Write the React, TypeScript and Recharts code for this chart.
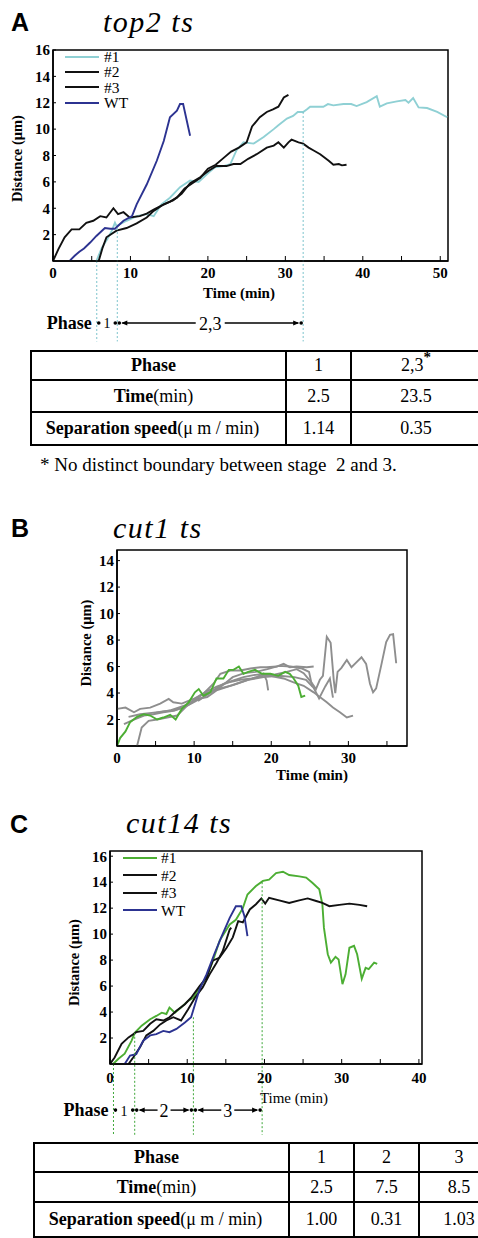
import React from "react";
import { LineChart, Line, XAxis, YAxis, ReferenceLine, ReferenceArea, Legend } from "recharts";

type P = [number, number];

const SERIF = '"Liberation Serif", "Times New Roman", serif';
const SANS = '"Liberation Sans", Arial, sans-serif';

// ---------- A: top2 ts ----------
const aTicksX = [0, 5, 10, 15, 20, 25, 30, 35, 40, 45, 50];
const aTicksY = [2, 4, 6, 8, 10, 12, 14, 16];
const a1: P[] = [[5.6,0],[6.3,1.0],[7.0,1.65],[7.6,2.3],[8.0,2.9],[8.2,2.65],[9.5,3.05],[10.8,3.4],[12.1,3.55],[13.0,3.4],[14.0,4.3],[15.1,4.8],[16.4,5.6],[17.7,6.1],[18.8,6.0],[19.9,6.6],[20.9,7.1],[22.0,7.2],[22.9,7.35],[23.7,8.4],[24.6,9.0],[25.9,8.9],[27.2,9.4],[28.5,10.0],[29.1,10.3],[30.2,10.8],[31.0,11.0],[31.6,11.3],[32.3,11.3],[32.8,11.5],[33.2,11.7],[34.9,11.7],[35.5,11.9],[36.2,11.8],[37.5,11.9],[38.5,11.9],[39.2,11.75],[40.5,12.05],[41.8,12.5],[42.2,11.7],[43.1,11.95],[44.4,12.1],[45.5,12.2],[45.9,12.0],[46.5,12.35],[47.2,11.65],[48.3,11.6],[49.6,11.3],[50.9,10.9]];
const a2: P[] = [[0,0],[0.7,0.9],[1.5,1.8],[2.4,2.4],[3.4,2.4],[4.3,2.9],[5.2,3.05],[6.1,3.4],[6.9,3.3],[7.8,4.0],[8.4,3.55],[9.1,3.7],[9.9,3.3],[11.2,3.4],[12.1,3.6],[13.0,3.9],[14.0,4.2],[15.1,4.5],[16.0,4.8],[17.0,5.5],[18.0,5.9],[19.0,6.3],[20.0,7.0],[21.0,7.3],[22.0,7.8],[23.0,8.3],[24.0,8.6],[25.0,9.0],[25.7,10.2],[26.7,10.9],[27.6,11.3],[28.4,11.5],[29.1,11.7],[29.8,12.4],[30.4,12.6]];
const a3: P[] = [[5.9,0],[6.4,1.0],[6.9,1.8],[8.2,2.3],[9.5,2.5],[10.8,2.85],[12.1,3.3],[13.0,3.8],[14.3,4.3],[15.5,4.6],[16.6,5.1],[17.7,5.9],[19.0,6.35],[20.1,6.85],[21.1,7.2],[22.4,7.2],[23.3,7.35],[24.2,7.35],[25.2,7.75],[26.3,8.1],[27.6,8.6],[28.5,8.75],[29.1,9.0],[29.8,8.6],[30.4,9.0],[30.8,9.2],[31.7,9.0],[32.3,8.9],[33.0,8.6],[33.6,8.4],[34.5,8.1],[35.6,7.6],[36.2,7.3],[36.9,7.35],[37.3,7.25],[37.9,7.3]];
const aWT: P[] = [[2.2,0.05],[2.8,0.4],[3.4,0.7],[4.0,0.95],[4.8,1.4],[5.6,1.9],[6.7,2.5],[7.4,2.45],[8.0,2.45],[9.1,3.05],[10.2,3.4],[10.8,4.3],[12.1,5.8],[13.4,7.6],[14.3,9.1],[15.1,10.9],[16.0,11.4],[16.4,11.9],[16.8,11.9],[17.7,9.5]];
const aCuts = [5.65, 8.3, 32.3];
const aCutFrom = [0, 2.5, 11.3];
const aPhaseLabels = ["1", "2,3"];
const aPhaseEdges = [5.65, 8.3, 32.3];
const aTableCols = ["1", "2,3"];
const aTimes = ["2.5", "23.5"];
const aSpeeds = ["1.14", "0.35"];

// ---------- B: cut1 ts ----------
const bTicksX = [0, 5, 10, 15, 20, 25, 30, 35];
const bTicksY = [2, 4, 6, 8, 10, 12, 14];
const bGreen: P[] = [[0,0],[0.4,0.6],[1.1,1.1],[1.7,1.8],[2.6,2.2],[3.5,2.4],[4.3,2.3],[5.2,2.0],[6.0,2.15],[6.9,2.35],[7.6,2.0],[8.4,2.8],[9.3,3.3],[10.1,4.05],[10.6,4.3],[11.2,3.8],[12.1,4.05],[12.9,5.1],[13.8,5.1],[14.5,5.75],[15.1,5.75],[15.8,6.0],[16.4,5.45],[17.0,5.6],[17.9,5.75],[18.8,5.45],[19.9,5.45],[20.9,5.3],[21.8,5.6],[22.4,5.45],[22.9,5.1],[23.5,4.55],[23.9,3.7],[24.4,3.8]];
const bG1: P[] = [[0,2.8],[1.1,2.9],[2.2,2.55],[3.0,2.8],[4.3,2.9],[5.6,3.2],[6.7,3.55],[7.3,3.3],[8.4,3.2],[9.9,3.55],[11.2,3.95],[12.5,4.7],[13.4,5.45],[14.7,5.7],[16.0,5.7],[17.3,5.85],[18.6,5.95],[19.4,5.95],[20.7,6.0],[21.6,6.2],[22.4,5.95],[23.3,6.0],[24.6,5.95],[25.5,6.0]];
const bG2: P[] = [[0.9,1.65],[2.2,2.0],[3.5,2.3],[4.7,2.4],[6.0,2.55],[7.3,2.65],[8.6,2.9],[9.9,3.3],[11.2,3.7],[12.5,4.2],[13.8,4.7],[15.1,4.95],[16.4,5.2],[17.7,5.35],[19.0,5.45],[20.3,5.25],[21.6,5.1],[22.9,4.8],[24.2,4.55],[25.5,4.05],[26.3,3.7],[27.2,3.3],[28.0,2.9],[28.9,2.55],[29.8,2.15],[30.6,2.3]];
const bG3: P[] = [[2.6,0],[3.2,1.4],[4.1,1.9],[5.2,2.0],[6.5,2.15],[7.8,2.3],[9.1,3.05],[10.4,3.55],[11.7,3.7],[12.9,4.2],[14.2,4.45],[15.5,4.7],[16.8,4.95],[18.1,5.2],[19.0,5.45],[19.4,4.95],[19.6,4.2]];
const bG4: P[] = [[1.5,2.2],[3.0,2.4],[4.5,2.5],[6.0,2.6],[7.5,2.7],[8.8,3.0],[10.0,3.4],[11.5,4.1],[13.0,4.5],[14.5,4.8],[16.0,5.0],[17.5,5.1],[19.0,5.3],[20.5,5.4],[22.0,5.6],[23.3,5.8],[24.2,5.5],[25.2,4.8],[25.8,4.3],[26.3,5.0],[26.7,5.3],[27.2,8.25],[27.7,7.8],[28.1,5.0],[28.3,4.0],[28.6,5.6],[29.1,5.9],[29.8,6.5],[30.4,5.95],[31.0,6.3],[31.7,6.7],[32.3,6.2],[32.8,4.7],[33.2,4.05],[33.6,4.35],[34.3,6.2],[34.9,7.85],[35.4,8.4],[35.8,8.45],[36.2,6.25]];
const bG5: P[] = [[5,2.5],[7,2.7],[9,3.1],[11,3.9],[13,4.3],[15,4.6],[17,5.0],[19,5.2],[21,5.3],[23,5.2],[24.5,5.0],[25.5,4.4],[26.2,3.6],[27,4.5],[27.6,5.1],[28,3.65]];
const bG6: P[] = [[10.5,3.4],[12,4.0],[13.5,4.5],[15,5.2],[16.5,5.5],[18,5.6],[19.5,5.8],[21,6.05],[22.5,6.0],[24,5.85],[24.9,5.6],[25.3,4.5]];

// ---------- C: cut14 ts ----------
const cTicksX = [0, 5, 10, 15, 20, 25, 30, 35, 40];
const cTicksY = [2, 4, 6, 8, 10, 12, 14, 16];
const c1: P[] = [[0.4,0],[1.1,0.4],[1.9,0.8],[2.8,1.8],[3.2,2.4],[4.1,2.95],[5.2,3.45],[6.0,3.7],[6.7,3.95],[7.3,3.85],[7.7,4.35],[8.4,3.95],[9.2,4.35],[10.1,4.85],[10.8,5.1],[11.6,5.9],[12.5,6.65],[13.3,7.9],[14.2,9.5],[15.5,10.75],[16.3,11.1],[17.2,12.0],[17.8,13.05],[18.9,13.7],[19.8,14.1],[20.6,14.2],[21.5,14.7],[22.4,14.8],[23.2,14.55],[24.5,14.45],[25.4,14.35],[26.2,13.95],[27.1,13.45],[27.5,12.3],[27.7,10.5],[28.2,8.45],[28.6,7.8],[29.2,8.25],[29.6,8.05],[30.1,6.15],[30.5,6.9],[31.0,8.95],[31.6,9.1],[32.0,8.45],[32.6,6.55],[33.1,7.4],[33.5,7.3],[34.2,7.8],[34.6,7.7]];
const c2: P[] = [[0,0],[0.6,0.5],[1.5,1.55],[2.4,2.05],[3.4,2.45],[4.3,2.55],[5.2,3.1],[6.0,3.45],[6.9,3.35],[7.7,3.6],[8.6,4.1],[9.7,4.6],[10.5,5.1],[11.6,6.0],[12.5,6.65],[13.3,7.95],[14.2,8.2],[15.1,8.95],[15.9,9.75],[16.6,11.0],[17.2,10.9],[18.1,11.9],[18.9,12.3],[19.6,12.75],[20.1,12.35],[20.6,12.8],[21.9,12.6],[23.2,12.4],[24.5,12.6],[25.6,12.75],[26.7,12.55],[27.5,12.4],[28.4,12.15],[29.7,12.25],[31.0,12.35],[32.3,12.25],[33.3,12.15]];
const c3: P[] = [[2.4,0],[3.0,0.5],[3.9,1.3],[4.7,2.2],[5.6,2.55],[6.5,3.05],[7.3,3.35],[8.2,3.6],[9.2,3.35],[10.1,4.2],[11.0,5.1],[12.0,5.9],[12.9,6.9],[13.8,7.8],[14.6,8.7],[15.5,10.35],[15.7,10.5]];
const cWT: P[] = [[1.9,0],[2.6,0.65],[3.4,0.75],[4.3,1.8],[5.2,2.2],[6.0,2.3],[6.9,2.55],[7.7,2.45],[8.6,2.7],[9.7,3.2],[10.5,3.6],[11.6,5.75],[12.5,6.9],[13.5,8.45],[14.4,9.75],[15.5,11.25],[16.3,12.15],[17.0,12.15],[17.4,11.4],[17.8,9.85]];
const cCuts = [0.45, 3.2, 10.8, 19.7];
const cCutFrom = [0, 2.4, 3.6, 14.0];
const cPhaseLabels = ["1", "2", "3"];
const cPhaseEdges = [0.45, 3.2, 10.8, 19.7];
const cTableCols = ["1", "2", "3"];
const cTimes = ["2.5", "7.5", "8.5"];
const cSpeeds = ["1.00", "0.31", "1.03"];

const CYAN = "#8fd0d4";
const BLACK = "#111";
const BLUE = "#2c3391";
const GREEN = "#4cae33";
const GREY = "#8e8e8e";

const pts = (a: P[]) => a.map(([x, y]) => ({ x, y }));

type Series = { name?: string; color: string; points: P[] };

type Cfg = {
  top: number;
  height: number;
  margin: { top: number; right: number; bottom: number; left: number };
  xMax: number;
  yMax: number;
  xTicks: number[];
  yTicks: number[];
  xTickMargin: number;
  series: Series[];
  xLab: { dx: number; dy: number; bold: boolean };
  yLab: { dx: number; dy: number };
  legend?: { left: number; top: number; row: number; gap: number };
  cuts?: number[];
  cutFrom?: number[];
  cutColor?: string;
  dropY?: number;
  phaseY?: number;
  phaseEdges?: number[];
  phaseLabels?: string[];
};

const tickStyle = { fill: "#000", fontSize: 15, fontWeight: 700, fontFamily: SERIF };

const xLabel = (c: Cfg) => (props: any) => {
  const vb = props.viewBox || {};
  const x = (vb.x ?? 0) + (vb.width ?? 0) / 2 + c.xLab.dx;
  const y = (vb.y ?? 0) + c.xLab.dy;
  return (
    <text x={x} y={y} textAnchor="middle" fontFamily={SERIF} fontSize={15} fontWeight={c.xLab.bold ? 700 : 400} fill="#000">
      Time (min)
    </text>
  );
};

const yLabel = (c: Cfg) => (props: any) => {
  const vb = props.viewBox || {};
  const x = (vb.x ?? 0) + (vb.width ?? 0) + c.yLab.dx;
  const y = (vb.y ?? 0) + (vb.height ?? 0) / 2 + c.yLab.dy;
  return (
    <text x={x} y={y} transform={`rotate(-90 ${x} ${y})`} textAnchor="middle" dominantBaseline="central" fontFamily={SERIF} fontSize={14.5} fontWeight={700} fill="#000">
      Distance (μm)
    </text>
  );
};

const legendBox = (row: number, gap: number) => (props: any) => (
  <div style={{ fontFamily: SERIF, fontSize: 15.5, color: "#000" }}>
    {(props.payload || []).map((p: any, i: number) => (
      <div key={i} style={{ display: "flex", alignItems: "center", height: row }}>
        <svg width={34} height={4} style={{ display: "block" }}>
          <line x1={0} x2={34} y1={2} y2={2} stroke={p.color} strokeWidth={2.2} />
        </svg>
        <span style={{ marginLeft: gap, lineHeight: 1 }}>{p.value}</span>
      </div>
    ))}
  </div>
);

const phaseShape = (label: string, first: boolean) => (p: any) => {
  const { x1, x2, y1 } = p;
  const y = y1;
  const short = x2 - x1 < 30;
  const mid = (x1 + x2) / 2;
  const half = label.length * 4 + 2.5;
  return (
    <g>
      {first && (
        <text x={x1 - 5} y={y} textAnchor="end" dominantBaseline="central" fontFamily={SERIF} fontSize={18} fontWeight={700} fill="#000">
          Phase
        </text>
      )}
      <circle cx={x1 + 2} cy={y} r={1.8} fill="#000" />
      <circle cx={x2 - 2} cy={y} r={1.8} fill="#000" />
      {!short && (
        <g>
          <line x1={x1 + 5} x2={mid - half} y1={y} y2={y} stroke="#000" strokeWidth={1.4} />
          <line x1={mid + half} x2={x2 - 5} y1={y} y2={y} stroke="#000" strokeWidth={1.4} />
          <path d={`M${x1 + 4},${y} l6,-2.6 v5.2 z`} fill="#000" />
          <path d={`M${x2 - 4},${y} l-6,-2.6 v5.2 z`} fill="#000" />
        </g>
      )}
      <text x={mid} y={y + 1} textAnchor="middle" dominantBaseline="central" fontFamily={SERIF} fontSize={short ? 14 : 18} fill="#000">
        {label}
      </text>
    </g>
  );
};

function Panel({ c }: { c: Cfg }) {
  return (
    <div style={{ position: "absolute", left: 0, top: c.top }}>
      <LineChart width={478} height={c.height} margin={c.margin}>
        <XAxis
          type="number"
          dataKey="x"
          domain={[0, c.xMax]}
          allowDataOverflow
          ticks={c.xTicks}
          interval={0}
          tickFormatter={(v: number) => (v % 10 === 0 ? String(v) : "")}
          tickSize={-5}
          tickMargin={c.xTickMargin}
          height={30}
          axisLine={{ stroke: "#000", strokeWidth: 1.5 }}
          tickLine={{ stroke: "#000", strokeWidth: 1 }}
          tick={tickStyle}
          label={xLabel(c)}
        />
        <YAxis
          type="number"
          domain={[0, c.yMax]}
          allowDataOverflow
          ticks={c.yTicks}
          interval={0}
          width={40}
          tickSize={-3}
          tickMargin={6}
          axisLine={{ stroke: "#000", strokeWidth: 1.5 }}
          tickLine={{ stroke: "#000", strokeWidth: 1 }}
          tick={tickStyle}
          label={yLabel(c)}
        />
        <ReferenceArea x1={0} x2={c.xMax} y1={0} y2={c.yMax} fill="none" fillOpacity={0} stroke="#000" strokeWidth={1.5} ifOverflow="visible" />
        {c.series.map((s, i) => (
          <Line
            key={i}
            data={pts(s.points)}
            dataKey="y"
            name={s.name}
            stroke={s.color}
            strokeWidth={1.9}
            dot={false}
            activeDot={false}
            type="linear"
            legendType={s.name ? "line" : "none"}
            isAnimationActive={false}
          />
        ))}
        {(c.cuts || []).map((x, i) => (
          <ReferenceLine
            key={"cut" + i}
            segment={[{ x, y: (c.cutFrom || [])[i] }, { x, y: c.dropY as number }]}
            stroke={c.cutColor}
            strokeWidth={1}
            strokeDasharray="2 2"
            ifOverflow="visible"
          />
        ))}
        {(c.phaseLabels || []).map((lab, i) => (
          <ReferenceLine
            key={"ph" + i}
            segment={[
              { x: (c.phaseEdges || [])[i], y: c.phaseY as number },
              { x: (c.phaseEdges || [])[i + 1], y: c.phaseY as number },
            ]}
            ifOverflow="visible"
            shape={phaseShape(lab, i === 0)}
          />
        ))}
        {c.legend && (
          <Legend
            layout="horizontal"
            verticalAlign="middle"
            align="center"
            wrapperStyle={{ left: c.legend.left, top: c.legend.top, width: "auto", height: "auto" }}
            content={legendBox(c.legend.row, c.legend.gap)}
          />
        )}
      </LineChart>
    </div>
  );
}

const cfgA: Cfg = {
  top: 0,
  height: 350,
  margin: { top: 50, right: 30, bottom: 59, left: 13 },
  xMax: 51,
  yMax: 16,
  xTicks: aTicksX,
  yTicks: aTicksY,
  xTickMargin: 11,
  series: [
    { name: "#1", color: CYAN, points: a1 },
    { name: "#2", color: BLACK, points: a2 },
    { name: "#3", color: BLACK, points: a3 },
    { name: "WT", color: BLUE, points: aWT },
  ],
  xLab: { dx: -11.5, dy: 37, bold: true },
  yLab: { dx: -36, dy: 3 },
  legend: { left: 65, top: 49, row: 15.3, gap: 5 },
  cuts: aCuts,
  cutFrom: aCutFrom,
  cutColor: "#7cc3cc",
  dropY: -6.1,
  phaseY: -4.7,
  phaseEdges: aPhaseEdges,
  phaseLabels: aPhaseLabels,
};

const cfgB: Cfg = {
  top: 510,
  height: 290,
  margin: { top: 40, right: 71, bottom: 24, left: 77 },
  xMax: 37.6,
  yMax: 14.8,
  xTicks: bTicksX,
  yTicks: bTicksY,
  xTickMargin: 11,
  series: [
    { color: GREY, points: bG1 },
    { color: GREY, points: bG2 },
    { color: GREY, points: bG3 },
    { color: GREY, points: bG4 },
    { color: GREY, points: bG5 },
    { color: GREY, points: bG6 },
    { color: GREEN, points: bGreen },
  ],
  xLab: { dx: 50, dy: 34, bold: true },
  yLab: { dx: -31, dy: -5 },
};

const cfgC: Cfg = {
  top: 800,
  height: 345,
  margin: { top: 51, right: 56, bottom: 51, left: 70 },
  xMax: 40.4,
  yMax: 16.4,
  xTicks: cTicksX,
  yTicks: cTicksY,
  xTickMargin: 13,
  series: [
    { name: "#1", color: GREEN, points: c1 },
    { name: "#2", color: BLACK, points: c2 },
    { name: "#3", color: BLACK, points: c3 },
    { name: "WT", color: BLUE, points: cWT },
  ],
  xLab: { dx: 28, dy: 39, bold: false },
  yLab: { dx: -36, dy: 5 },
  legend: { left: 123, top: 49, row: 17.5, gap: 4 },
  cuts: cCuts,
  cutFrom: cCutFrom,
  cutColor: "#3fa83a",
  dropY: -5.45,
  phaseY: -3.55,
  phaseEdges: cPhaseEdges,
  phaseLabels: cPhaseLabels,
};

const cell: React.CSSProperties = {
  border: "2px solid #000",
  textAlign: "center",
  padding: 0,
  fontSize: 18,
  fontFamily: SERIF,
  color: "#000",
};

function PhaseTable(props: {
  left: number;
  top: number;
  cols: number[];
  rows: number[];
  phases: string[];
  times: string[];
  speeds: string[];
  star?: number;
}) {
  const { left, top, cols, rows, phases, times, speeds, star } = props;
  const width = cols.reduce((s, v) => s + v, 0);
  return (
    <table
      style={{
        position: "absolute",
        left,
        top,
        width,
        borderCollapse: "collapse",
        tableLayout: "fixed",
      }}
    >
      <colgroup>
        {cols.map((w, i) => (
          <col key={i} style={{ width: w }} />
        ))}
      </colgroup>
      <tbody>
        <tr style={{ height: rows[0] }}>
          <td style={{ ...cell, fontWeight: 700, paddingRight: 10 }}>Phase</td>
          {phases.map((p, i) => (
            <td key={i} style={cell}>
              {p}
              {star === i && <span style={{ position: "relative", top: -9, fontSize: 15, fontWeight: 700 }}>*</span>}
            </td>
          ))}
        </tr>
        <tr style={{ height: rows[1] }}>
          <td style={{ ...cell, paddingRight: 10 }}>
            <b>Time</b>(min)
          </td>
          {times.map((t, i) => (
            <td key={i} style={cell}>
              {t}
            </td>
          ))}
        </tr>
        <tr style={{ height: rows[2] }}>
          <td style={{ ...cell, paddingRight: 12, whiteSpace: "nowrap" }}>
            <b>Separation speed</b>(μ m / min)
          </td>
          {speeds.map((t, i) => (
            <td key={i} style={cell}>
              {t}
            </td>
          ))}
        </tr>
      </tbody>
    </table>
  );
}

export default function App() {
  return (
    <div
      style={{
        position: "absolute",
        left: 0,
        top: 0,
        width: 478,
        height: 1238,
        overflow: "hidden",
        background: "#fff",
        fontFamily: SERIF,
      }}
    >
      <Panel c={cfgA} />
      <Panel c={cfgB} />
      <Panel c={cfgC} />
      <PhaseTable left={30} top={350} cols={[255, 65, 130]} rows={[29, 32, 33]} phases={aTableCols} times={aTimes} speeds={aSpeeds} star={1} />
      <PhaseTable left={33} top={1142} cols={[255, 65, 65, 80]} rows={[29, 30, 35]} phases={cTableCols} times={cTimes} speeds={cSpeeds} />
      <svg width={478} height={1238} style={{ position: "absolute", left: 0, top: 0, pointerEvents: "none" }}>
        <text x={11} y={31} fontFamily={SANS} fontWeight={700} fontSize={25} fill="#000">A</text>
        <text x={103} y={32} fontFamily={SERIF} fontStyle="italic" fontSize={30} letterSpacing={1.5} fill="#000">top2 ts</text>
        <text x={11} y={537} fontFamily={SANS} fontWeight={700} fontSize={25} fill="#000">B</text>
        <text x={113} y={538} fontFamily={SERIF} fontStyle="italic" fontSize={30} letterSpacing={1.5} fill="#000">cut1 ts</text>
        <text x={10} y={833} fontFamily={SANS} fontWeight={700} fontSize={25} fill="#000">C</text>
        <text x={126} y={833} fontFamily={SERIF} fontStyle="italic" fontSize={30} letterSpacing={1.5} fill="#000">cut14 ts</text>
        <text x={40} y={471} fontFamily={SERIF} fontSize={19} fill="#000" style={{ whiteSpace: "pre" }}>
          {"* No distinct boundary between stage  2 and 3."}
        </text>
      </svg>
    </div>
  );
}
